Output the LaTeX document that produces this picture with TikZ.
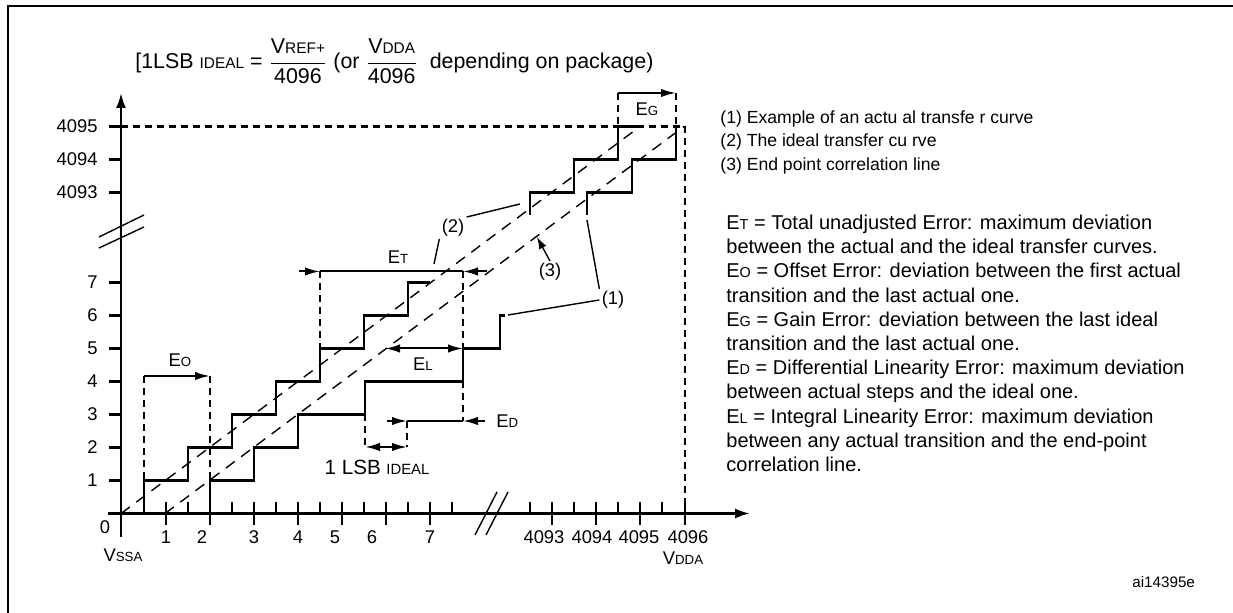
\documentclass[tikz,border=0pt]{standalone}
\usepackage{amsmath}
\usepackage{fontspec}
\setmainfont{Liberation Sans}
\usetikzlibrary{arrows.meta}

% smaller capitals used for the indices (E_T, V_DDA, ...),
%   about 0.72 of the size in force
\makeatletter
\newcommand{\sml}[1]{{\fontsize{\fpeval{0.72*\f@size}}{1}\selectfont #1}}
\makeatother

\tikzset{
  boxline/.style  = {line width=1.3pt},
  axisline/.style = {line width=1.2pt},
  stair/.style    = {line width=1.3pt},
  guide/.style    = {line width=1.1pt, dash pattern=on 3.5pt off 2.5pt},
  slope/.style    = {line width=0.7pt, dash pattern=on 5.5pt off 4pt},
  errarrow/.style = {line width=1pt, -{Latex[length=7.5pt, width=4.2pt]}},
  leader/.style   = {line width=0.7pt},
  num/.style      = {font=\fontsize{9.2}{11}\selectfont, inner sep=1pt},
  deftext/.style  = {font=\fontsize{10}{12}\selectfont, inner sep=0pt, anchor=base west},
  legtext/.style  = {font=\fontsize{8.8}{10}\selectfont, inner sep=0pt, anchor=base west},
}

\begin{document}
\begin{tikzpicture}[x=0.5pt, y=-0.5pt]

  \useasboundingbox (0,0) rectangle (1233,613);

  % Frame of the figure, only its top and left sides are in view

  \draw[boxline] (8,640) -- (8,6) -- (1260,6);

  % Definition of one ideal LSB

  \node[num, font=\fontsize{10.7}{12}\selectfont, anchor=base west] (lsbdef) at (133,68.5)
    {[1LSB \sml{IDEAL} = $\dfrac{\mbox{V\sml{REF+}}}{\mbox{4096}}$
     (or $\dfrac{\mbox{V\sml{DDA}}}{\mbox{4096}}$ \ depending on package)};

  % Axes, the origin is at VSSA

  \coordinate (O) at (121,513.5);
  \draw[axisline, -{Latex[length=7.5pt, width=5pt]}] (108,513.5) -- (750,513.5);
  \draw[axisline, -{Latex[length=7.5pt, width=5pt]}] (121,537) -- (121,93);

  % Ticks on the horizontal axis:
  %   long ones at whole LSB, short ones half way

  \foreach \x in {166,210,...,430, 552,596,640,685}
    \draw[axisline] (\x,502.5) -- (\x,525);
  \foreach \x in {188,232,...,452, 530,574,618,662}
    \draw[axisline] (\x,502.5) -- (\x,513.5);

  \foreach \x/\t in {166/1, 202/2, 254/3, 298/4, 335/5, 372/6, 430/7,
                     544/4093, 592/4094, 639/4095, 688/4096}
    \node[num] (x\t) at (\x,537) {\t};
  \node[num] (x0) at (105,527) {0};
  \node[num] (vssa) at (123,555) {V\sml{SSA}};
  \node[num] (vdda) at (683,558) {V\sml{DDA}};

  % Ticks and codes on the vertical axis

  \foreach \y/\t in {480.5/1, 447.5/2, 414.5/3, 381.5/4, 348.5/5,
                     315.5/6, 282.5/7, 192.5/4093, 159.5/4094, 126.5/4095} {
    \draw[axisline] (109,\y) -- (121,\y);
    \node[num, anchor=east] (y\t) at (100,\y) {\t};
  }

  % Breaks in both axes

  \draw[leader] (475,535) -- (497,492);
  \draw[leader] (486,535) -- (508,492);
  \draw[leader] (99,237) -- (144,215);
  \draw[leader] (99,248) -- (144,227);

  % The ideal transfer curve (2)

  \draw[stair] (144,513.5) |- (188,480.5) |- (232,447.5) |- (276,414.5)
    |- (320,381.5) |- (364,348.5) |- (408,315.5) |- (430,282.5);
  \draw[stair] (530,215) |- (574,192.5) |- (618,159.5) |- (640,126.5);

  % An actual transfer curve (1)

  \draw[stair] (210,513.5) |- (254,480.5) |- (298,447.5) |- (365,414.5)
    |- (463,381.5) |- (500,348.5) |- (505,315.5);
  \draw[stair] (587,215) |- (632,192.5) |- (676,159.5) -- (676,126.5);

  % Straight lines through the two curves,
  %   the lower one is the end point correlation line (3)

  \draw[slope] (O) -- (640,126.5);
  \draw[slope] (165,513.5) -- (684,126.5);

  % Dashed guides

  \draw[guide] (121,126.5) -- (685,126.5);
  \draw[guide] (685,126.5) -- (685,513.5);
  \draw[guide] (618,93) -- (618,126.5);
  \draw[guide] (676,93) -- (676,126.5);
  \draw[guide] (144,376) -- (144,480.5);
  \draw[guide] (210,376) -- (210,480.5);
  \draw[guide] (320,271.5) -- (320,348.5);
  \draw[guide] (463,271.5) -- (463,348.5);
  \draw[guide] (463,381.5) -- (463,421);
  \draw[guide] (365,414.5) -- (365,447);
  \draw[guide] (407,421) -- (407,447);

  % Error arrows and their names

  \draw[errarrow] (618,93) -- (676,93);
  \node[num] (eg) at (647,109) {E\sml{G}};

  \draw[errarrow] (144,376) -- (210,376);
  \node[num] (eo) at (180,360) {E\sml{O}};

  \draw[errarrow] (299,271.5) -- (320,271.5);
  \draw[line width=1pt] (320,271.5) -- (463,271.5);
  \draw[errarrow] (487,271.5) -- (463,271.5);
  \node[num] (et) at (398,257) {E\sml{T}};

  \draw[errarrow, {Latex[length=7.5pt, width=4.2pt]}-{Latex[length=7.5pt, width=4.2pt]}]
    (385,348.5) -- (463,348.5);
  \node[num] (el) at (423,364) {E\sml{L}};

  \draw[errarrow] (387,421) -- (407,421);
  \draw[line width=1pt] (407,421) -- (463,421);
  \draw[errarrow] (485,421) -- (463,421);
  \node[num, anchor=west] (ed) at (494,421) {E\sml{D}};

  \draw[errarrow, {Latex[length=7.5pt, width=4.2pt]}-{Latex[length=7.5pt, width=4.2pt]}]
    (365,447) -- (407,447);
  \node[num, font=\fontsize{10.3}{12}\selectfont] (lsb) at (377,467) {1 LSB \sml{IDEAL}};

  % Callouts for the three curves

  \coordinate (c1a) at (587,220);
  \coordinate (c1b) at (508,315);
  \coordinate (c2a) at (520,204);
  \coordinate (c2b) at (434,264);
  \coordinate (c3)  at (537,237);

  \node[num] (lab1) at (613,300) {(1)};
  \node[num] (lab2) at (453,228) {(2)};
  \node[num] (lab3) at (550,272) {(3)};

  \draw[leader] (lab1.north west) -- (c1a);
  \draw[leader] (lab1.west) -- (c1b);
  \draw[leader] (lab2.north east) -- (c2a);
  \draw[leader] (lab2.south west) -- (c2b);
  \draw[leader, -{Latex[length=6pt, width=4pt]}] (lab3.north) -- (c3);

  % Key to the curves

  \foreach \line [count=\i] in {{(1) Example of an actu al transfe r curve},
                                {(2) The ideal transfer cu rve},
                                {(3) End point correlation line}}
    \node[legtext] (key\i) at (720, {123.5 + 23.5*(\i-1)}) {\line};

  % What each error means

  \foreach \line [count=\i] in {
      {E\sml{T} = Total unadjusted Error: maximum deviation},
      {between the actual and the ideal transfer curves.},
      {E\sml{O} = Offset Error: deviation between the first actual},
      {transition and the last actual one.},
      {E\sml{G} = Gain Error: deviation between the last ideal},
      {transition and the last actual one.},
      {E\sml{D} = Differential Linearity Error: maximum deviation},
      {between actual steps and the ideal one.},
      {E\sml{L} = Integral Linearity Error: maximum deviation},
      {between any actual transition and the end-point},
      {correlation line.}}
    \node[deftext] (def\i) at (726, {229.5 + 24.2*(\i-1)}) {\line};

  \node[font=\fontsize{7.6}{9}\selectfont, anchor=east] (fig) at (1202,582) {ai14395e};

\end{tikzpicture}
\end{document}
